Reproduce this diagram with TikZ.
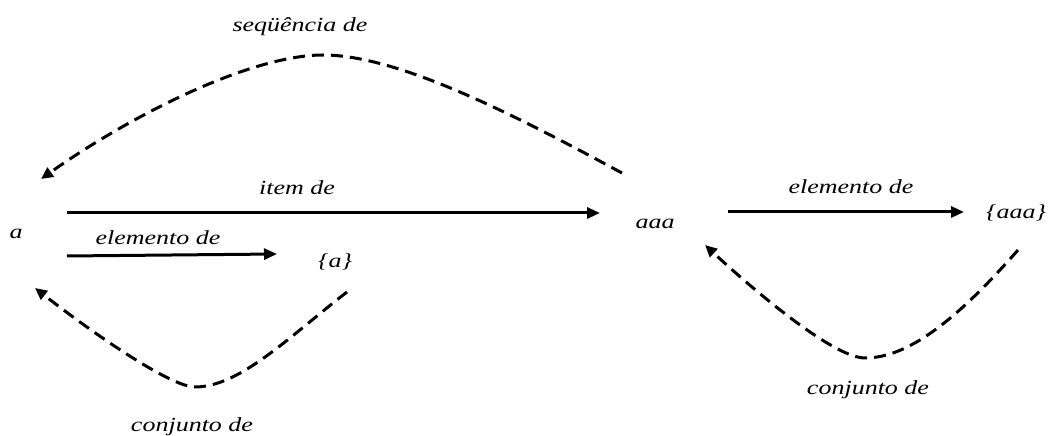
\documentclass[tikz,border=0pt]{standalone}
\usepackage{fontspec}
\setmainfont{Liberation Serif}
\usetikzlibrary{arrows.meta,calc}
\newcommand{\wtxt}[1]{\scalebox{1.3}[1]{#1}}
\tikzset{
  lbl/.style={font=\fontsize{20}{23}\selectfont\itshape, inner sep=0pt, anchor=center},
  solidarrow/.style={line width=3pt, -{Triangle[length=13pt,width=11pt]}},
  dasharrow/.style={line width=3pt, dash pattern=on 12pt off 7pt, -{Triangle[length=12pt,width=11pt]}}
}
\begin{document}
\begin{tikzpicture}[x=1pt,y=1pt]
\useasboundingbox (0,0) rectangle (1049,436);
% nodes
\node[lbl] (a)     at (16,202)  {\wtxt{a}};
\node[lbl] (aaa)   at (655,212) {\wtxt{aaa}};
\node[lbl] (aset)  at (335,174) {\wtxt{\{a\}}};
\node[lbl] (aaaset) at (1016,223) {\wtxt{\{aaa\}}};
% labels
\node[lbl] (seq)   at (300,409) {\wtxt{seqüência de}};
\node[lbl] (item)  at (297,248) {\wtxt{item de}};
\node[lbl] (elemL) at (158,198) {\wtxt{elemento de}};
\node[lbl] (elemR) at (851,249) {\wtxt{elemento de}};
\node[lbl] (conjL) at (192,9)   {\wtxt{conjunto de}};
\node[lbl] (conjR) at (868,46)  {\wtxt{conjunto de}};
% connector end points
\coordinate (a1)  at ($(a.center)+(51,21)$);
\coordinate (a2)  at ($(a.center)+(51,-22)$);
\coordinate (aaaIn) at ($(aaa.center)+(-55,11)$);
\coordinate (asetIn) at ($(aset.center)+(-58,8)$);
\coordinate (aaaOut) at ($(aaa.center)+(73,12)$);
\coordinate (aaasetIn) at ($(aaaset.center)+(-52,1)$);
\coordinate (topS) at ($(aaa.center)+(-33,51)$);
\coordinate (topE) at ($(a.center)+(25,55)$);
\coordinate (blS) at ($(aset.center)+(12,-30)$);
\coordinate (blE) at ($(a.center)+(19,-54)$);
\coordinate (brS) at ($(aaaset.center)+(2,-37)$);
\coordinate (brE) at ($(aaa.center)+(50,-21)$);
% solid arrows
\draw[solidarrow] (a1) -- (aaaIn);
\draw[solidarrow] (a2) -- (asetIn);
\draw[solidarrow] (aaaOut) -- (aaasetIn);
% dashed curves
\draw[dasharrow] (topS) .. controls (520,318) and (400,381) .. (323,381)
                        .. controls (250,381) and (130,320) .. (topE);
\draw[dasharrow] (blS) .. controls (290,100) and (240,49) .. (195,49)
                       .. controls (170,49) and (90,105) .. (blE);
\draw[dasharrow] (brS) .. controls (960,120) and (910,78) .. (865,78)
                       .. controls (835,78) and (760,140) .. (brE);
\end{tikzpicture}
\end{document}
